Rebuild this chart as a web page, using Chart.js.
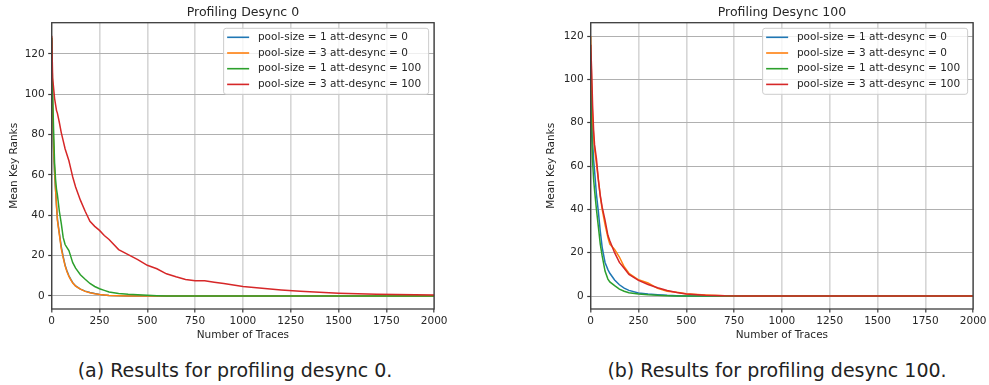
<!DOCTYPE html>
<html>
<head>
<meta charset="utf-8">
<title>Profiling desync results</title>
<script src="https://cdn.jsdelivr.net/npm/chart.js@4.4.1/dist/chart.umd.min.js"></script>
<style>
    body {
        margin: 0;
        width: 989px;
        height: 385px;
        position: relative;
        overflow: hidden;
        background: #fff;
        font-family: 'DejaVu Sans', sans-serif;
    }
    .panel {
        position: absolute;
        top: 0;
        width: 450px;
        height: 345px;
    }
    .caption {
        position: absolute;
        top: 359px;
        font-size: 19px;
        line-height: 22px;
        color: #222;
        white-space: nowrap;
        transform: translateX(-50%);
    }
</style>
</head>
<body>
<div class="panel" style="left:0"><canvas id="chartA"></canvas></div>
<div class="panel" style="left:539px"><canvas id="chartB"></canvas></div>
<div class="caption" style="left:235px">(a) Results for profiling desync 0.</div>
<div class="caption" style="left:777px">(b) Results for profiling desync 100.</div>

<script>
// Series names and colours (shared by both panels)
const seriesLabels = [
    'pool-size = 1 att-desync = 0',
    'pool-size = 3 att-desync = 0',
    'pool-size = 1 att-desync = 100',
    'pool-size = 3 att-desync = 100'
];
const seriesColors = ['#1f77b4', '#ff7f0e', '#2ca02c', '#d62728'];

// Panel (a): profiling desync 0
const tracesA = [0, 5, 10, 15, 20, 25, 30, 40, 50, 60, 70, 80, 90, 100, 110, 125, 150, 175, 200, 225,
    250, 275, 300, 350, 400, 450, 500, 550, 600, 650, 700, 750, 800, 850, 900, 1000, 1100, 1200, 1300,
    1400, 1500, 1600, 1700, 1800, 1900, 2000];
const pool1Desync0A = [127, 90, 72, 61, 53, 45, 38, 31, 24.5, 19.5, 15.3, 12.4, 10, 8.2, 6.6, 5, 3.4, 2.4, 1.7, 1.2,
    0.8, 0.5, 0.3, 0.12, 0.05, 0, 0, 0, 0, 0, 0, 0, 0, 0, 0, 0, 0, 0, 0,
    0, 0, 0, 0, 0, 0, 0];
const pool3Desync0A = [128, 92, 74, 62, 53, 45, 37.5, 30.5, 23.5, 19, 15, 12, 9.7, 8, 6.4, 4.9, 3.4, 2.3, 1.6, 1.1,
    0.7, 0.45, 0.25, 0.1, 0.04, 0, 0, 0, 0, 0, 0, 0, 0, 0, 0, 0, 0, 0, 0,
    0, 0, 0, 0, 0, 0, 0];
const pool1Desync100A = [128, 100, 82, 66, 58, 53, 50, 42, 36, 29, 25.5, 24, 22.5, 19.5, 16.5, 13.8, 10.5, 8.3, 6.2, 4.7,
    3.6, 2.8, 2, 1.2, 0.8, 0.6, 0.35, 0.15, 0.05, 0, 0, 0, 0, 0, 0, 0, 0, 0, 0,
    0, 0, 0, 0, 0, 0, 0];
const pool3Desync100A = [129, 108, 103, 98, 95, 92, 90.5, 86, 81, 77, 73, 70, 67, 63, 59, 54, 47.5, 42, 37, 34.5,
    32.5, 30, 28, 23, 20.5, 18, 15.2, 13.5, 11, 9.5, 8.2, 7.6, 7.5, 6.8, 6.2, 4.7, 3.8, 3, 2.4,
    1.8, 1.4, 1.1, 0.8, 0.7, 0.6, 0.5];

// Panel (b): profiling desync 100
const tracesB = [0, 5, 10, 15, 20, 30, 40, 50, 60, 75, 90, 100, 125, 150, 175, 200, 250, 300, 350, 400,
    450, 500, 600, 700, 800, 1000, 1500, 2000];
const pool1Desync0B = [110, 90, 72, 63, 58, 47, 39, 30, 22.5, 15.5, 12.2, 10.5, 7.4, 5.2, 3.6, 2.6, 1.4, 0.9, 0.6, 0.3,
    0.15, 0.05, 0, 0, 0, 0, 0, 0];
const pool3Desync0B = [120, 95, 82, 74, 68, 61, 54, 46, 40, 33, 27, 24, 21.5, 18, 13.5, 10.5, 7.5, 6, 3.5, 2.2,
    1.7, 1, 0.5, 0.15, 0.05, 0, 0, 0];
const pool1Desync100B = [95, 75, 62, 54, 49, 40, 32, 24, 18.5, 11.5, 7.8, 6.5, 4.8, 3.2, 2.2, 1.5, 0.9, 0.55, 0.3, 0.15,
    0.05, 0, 0, 0, 0, 0, 0, 0];
const pool3Desync100B = [116, 104, 88, 77, 70, 63.5, 53.6, 46.5, 41, 35, 28, 25.5, 20, 15.5, 12.8, 10, 7.2, 5.3, 3.8, 2.5,
    1.6, 0.9, 0.35, 0.1, 0.05, 0, 0, 0];

// Axis limits and tick steps
const xRange = [0, 2000];
const xStep = 250;
const yRangeA = [-6.45, 135.45];
const yRangeB = [-6.0, 126.2];
const yStep = 20;

Chart.defaults.font.family = "'DejaVu Sans', sans-serif";
Chart.defaults.color = '#262626';

const textColor = '#262626';
const frameColor = '#3c3c3c';

// Draws the four-sided frame and the legend box in the top-right of the plot
const framedLegend = {
    id: 'framedLegend',
    afterDatasetsDraw(chart) {
        const { ctx, chartArea: a } = chart;
        ctx.save();

        ctx.strokeStyle = frameColor;
        ctx.lineWidth = 1.3;
        ctx.strokeRect(a.left, a.top, a.right - a.left, a.bottom - a.top);

        const w = 205, h = 66;
        const x = a.right - 5.5 - w;
        const y = a.top + 5.6;
        ctx.beginPath();
        ctx.roundRect(x, y, w, h, 2.5);
        ctx.fillStyle = 'rgba(255,255,255,0.8)';
        ctx.fill();
        ctx.strokeStyle = '#cccccc';
        ctx.lineWidth = 1;
        ctx.stroke();

        ctx.font = "10.5px 'DejaVu Sans'";
        ctx.textBaseline = 'middle';
        ctx.textAlign = 'left';
        chart.data.datasets.forEach((ds, i) => {
            const ry = y + 9 + i * 15.7;
            ctx.strokeStyle = ds.borderColor;
            ctx.lineWidth = 1.6;
            ctx.beginPath();
            ctx.moveTo(x + 3.5, ry);
            ctx.lineTo(x + 25.5, ry);
            ctx.stroke();
            ctx.fillStyle = textColor;
            ctx.fillText(ds.label, x + 34.3, ry);
        });
        ctx.restore();
    }
};

function buildDatasets(traces, seriesList) {
    return seriesList.map((vals, i) => ({
        label: seriesLabels[i],
        data: traces.map((t, j) => ({ x: t, y: vals[j] })),
        borderColor: seriesColors[i],
        backgroundColor: seriesColors[i],
        borderWidth: 1.5,
        pointRadius: 0,
        tension: 0,
        // later series sit on top
        order: seriesList.length - i
    }));
}

// plain integers, no thousands separator
const plainTick = v => String(v);

function makeChart(canvasId, titleText, traces, seriesList, yRange, yTitlePad) {
    const ctx = document.getElementById(canvasId).getContext('2d');
    return new Chart(ctx, {
        type: 'line',
        data: { datasets: buildDatasets(traces, seriesList) },
        options: {
            responsive: true,
            maintainAspectRatio: false,
            animation: false,
            devicePixelRatio: 1,
            layout: { padding: { left: 0, right: 14.3, top: 0, bottom: 0 } },
            plugins: {
                legend: { display: false },
                tooltip: { enabled: false },
                title: {
                    display: true,
                    text: titleText,
                    fullSize: false,
                    color: textColor,
                    font: { size: 12.5, weight: 'normal', lineHeight: 1.2 },
                    padding: { top: 4.8, bottom: 2.9 }
                }
            },
            scales: {
                x: {
                    type: 'linear',
                    min: xRange[0],
                    max: xRange[1],
                    ticks: {
                        stepSize: xStep,
                        autoSkip: false,
                        maxRotation: 0,
                        padding: 2.5,
                        color: textColor,
                        font: { size: 10.5 },
                        callback: plainTick
                    },
                    grid: {
                        color: '#d6d6d6',
                        lineWidth: 1.6,
                        tickLength: 3.5,
                        tickColor: frameColor,
                        tickWidth: 1.2
                    },
                    border: { display: false },
                    title: {
                        display: true,
                        text: 'Number of Traces',
                        color: textColor,
                        font: { size: 10.5, lineHeight: 1.2 },
                        padding: { top: 0, bottom: 3.7 }
                    },
                    afterFit(scale) { scale.height = 36; }
                },
                y: {
                    min: yRange[0],
                    max: yRange[1],
                    ticks: {
                        stepSize: yStep,
                        includeBounds: false,
                        padding: 3.5,
                        color: textColor,
                        font: { size: 10.5 },
                        callback: plainTick
                    },
                    grid: {
                        color: '#b0b0b0',
                        lineWidth: 1,
                        tickLength: 3.5,
                        tickColor: frameColor,
                        tickWidth: 1.2
                    },
                    border: { display: false },
                    title: {
                        display: true,
                        text: 'Mean Key Ranks',
                        color: textColor,
                        font: { size: 10.5, lineHeight: 1.2 },
                        padding: { top: yTitlePad, bottom: 0 }
                    },
                    afterFit(scale) { scale.width = 51.7; }
                }
            }
        },
        plugins: [framedLegend]
    });
}

makeChart('chartA', 'Profiling Desync 0', tracesA,
    [pool1Desync0A, pool3Desync0A, pool1Desync100A, pool3Desync100A], yRangeA, 7.7);
makeChart('chartB', 'Profiling Desync 100', tracesB,
    [pool1Desync0B, pool3Desync0B, pool1Desync100B, pool3Desync100B], yRangeB, 6.4);
</script>
</body>
</html>
